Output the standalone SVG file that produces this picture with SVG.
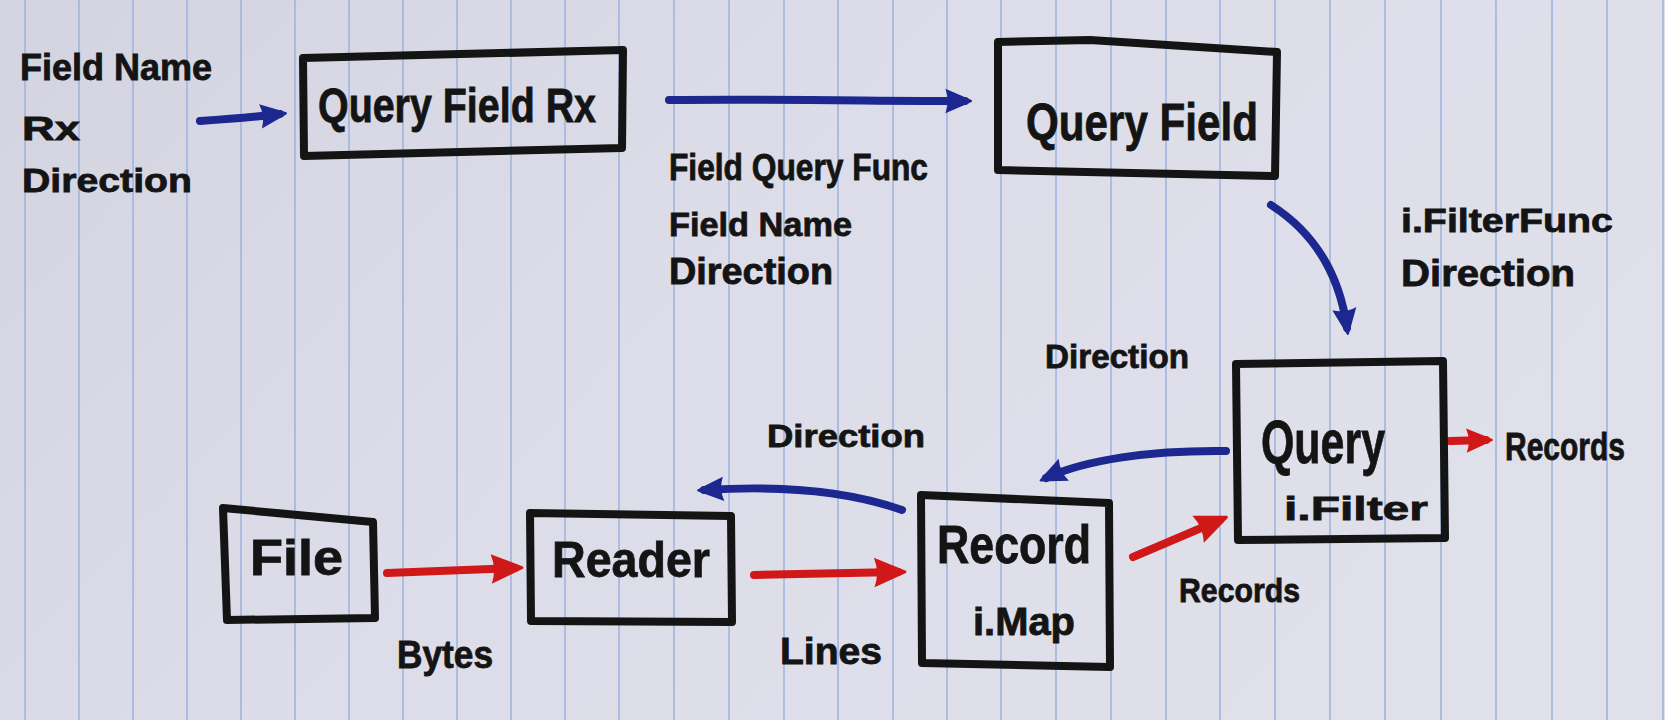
<svg xmlns="http://www.w3.org/2000/svg" width="1665" height="720" viewBox="0 0 1665 720">
<defs>
<linearGradient id="paper" x1="0" y1="0" x2="1" y2="0.4">
<stop offset="0" stop-color="#d3d4e0"/>
<stop offset="0.5" stop-color="#dcdde8"/>
<stop offset="1" stop-color="#dfe0ea"/>
</linearGradient>
<marker id="hb" markerUnits="userSpaceOnUse" viewBox="0 0 30 30" refX="22" refY="15" markerWidth="28" markerHeight="30" orient="auto">
<path d="M1,2 L29,14 Q30,15 29,16 L1,28 Q6,15 1,2 Z" fill="#1c2790"/>
</marker>
<marker id="hr" markerUnits="userSpaceOnUse" viewBox="0 0 30 30" refX="22" refY="15" markerWidth="36" markerHeight="34" orient="auto">
<path d="M1,2 L29,14 Q30,15 29,16 L1,28 Q6,15 1,2 Z" fill="#d01818"/>
</marker>
<marker id="hrs" markerUnits="userSpaceOnUse" viewBox="0 0 30 30" refX="22" refY="15" markerWidth="28" markerHeight="30" orient="auto">
<path d="M1,2 L29,14 Q30,15 29,16 L1,28 Q6,15 1,2 Z" fill="#d01818"/>
</marker>
</defs>
<style>
.rule{stroke:#9fb5de;stroke-width:1.6}
.box{fill:none;stroke:#141414;stroke-width:8;stroke-linejoin:round;stroke-linecap:round}
.t{font-family:"Liberation Sans",Arial,sans-serif;font-weight:bold;fill:#141414;stroke:#141414;stroke-width:0.8}
.blue{fill:none;stroke:#1c2790;stroke-width:8;stroke-linecap:round}
.red{fill:none;stroke:#d01818;stroke-width:8;stroke-linecap:round}
</style>
<rect width="1665" height="720" fill="url(#paper)"/>
<g id="rules">
<line class="rule" x1="25" y1="0" x2="25" y2="720"/>
<line class="rule" x1="79" y1="0" x2="79" y2="720"/>
<line class="rule" x1="133" y1="0" x2="133" y2="720"/>
<line class="rule" x1="187" y1="0" x2="187" y2="720"/>
<line class="rule" x1="241" y1="0" x2="241" y2="720"/>
<line class="rule" x1="295" y1="0" x2="295" y2="720"/>
<line class="rule" x1="349" y1="0" x2="349" y2="720"/>
<line class="rule" x1="403" y1="0" x2="403" y2="720"/>
<line class="rule" x1="457" y1="0" x2="457" y2="720"/>
<line class="rule" x1="511" y1="0" x2="511" y2="720"/>
<line class="rule" x1="565" y1="0" x2="565" y2="720"/>
<line class="rule" x1="619" y1="0" x2="619" y2="720"/>
<line class="rule" x1="674" y1="0" x2="674" y2="720"/>
<line class="rule" x1="729" y1="0" x2="729" y2="720"/>
<line class="rule" x1="784" y1="0" x2="784" y2="720"/>
<line class="rule" x1="838" y1="0" x2="838" y2="720"/>
<line class="rule" x1="893" y1="0" x2="893" y2="720"/>
<line class="rule" x1="947" y1="0" x2="947" y2="720"/>
<line class="rule" x1="1001" y1="0" x2="1001" y2="720"/>
<line class="rule" x1="1056" y1="0" x2="1056" y2="720"/>
<line class="rule" x1="1111" y1="0" x2="1111" y2="720"/>
<line class="rule" x1="1166" y1="0" x2="1166" y2="720"/>
<line class="rule" x1="1220" y1="0" x2="1220" y2="720"/>
<line class="rule" x1="1275" y1="0" x2="1275" y2="720"/>
<line class="rule" x1="1330" y1="0" x2="1330" y2="720"/>
<line class="rule" x1="1385" y1="0" x2="1385" y2="720"/>
<line class="rule" x1="1441" y1="0" x2="1441" y2="720"/>
<line class="rule" x1="1496" y1="0" x2="1496" y2="720"/>
<line class="rule" x1="1552" y1="0" x2="1552" y2="720"/>
<line class="rule" x1="1607" y1="0" x2="1607" y2="720"/>
<line class="rule" x1="1663" y1="0" x2="1663" y2="720"/>
</g>
<g id="connectors">
<path class="blue" d="M200,121 C230,119 255,117 280,114" marker-end="url(#hb)"/>
<path class="blue" d="M669,100 C780,99 880,101 965,101" marker-end="url(#hb)"/>
<path class="blue" d="M1271,205 C1318,235 1340,278 1347,328" marker-end="url(#hb)"/>
<path class="blue" d="M1226,451 C1150,450 1085,460 1046,478" marker-end="url(#hb)"/>
<path class="blue" d="M902,510 C860,495 800,484 704,490" marker-end="url(#hb)"/>
<path class="red" d="M387,573 L515,568" marker-end="url(#hr)"/>
<path class="red" d="M754,575 L898,572" marker-end="url(#hr)"/>
<path class="red" d="M1133,557 L1220,520" marker-end="url(#hr)"/>
<path class="red" d="M1450,441 L1486,440" marker-end="url(#hrs)"/>
<text class="t" x="669" y="180" font-size="36" textLength="259" lengthAdjust="spacingAndGlyphs">Field Query Func</text>
<text class="t" x="669" y="236" font-size="34" textLength="183" lengthAdjust="spacingAndGlyphs">Field Name</text>
<text class="t" x="669" y="284" font-size="36" textLength="164" lengthAdjust="spacingAndGlyphs">Direction</text>
<text class="t" x="1401" y="232" font-size="34" textLength="212" lengthAdjust="spacingAndGlyphs">i.FilterFunc</text>
<text class="t" x="1401" y="286" font-size="36" textLength="174" lengthAdjust="spacingAndGlyphs">Direction</text>
<text class="t" x="1045" y="368" font-size="34" textLength="144" lengthAdjust="spacingAndGlyphs">Direction</text>
<text class="t" x="767" y="447" font-size="32" textLength="158" lengthAdjust="spacingAndGlyphs">Direction</text>
<text class="t" x="1505" y="460" font-size="38" textLength="120" lengthAdjust="spacingAndGlyphs">Records</text>
<text class="t" x="1179" y="602" font-size="34" textLength="121" lengthAdjust="spacingAndGlyphs">Records</text>
<text class="t" x="780" y="664" font-size="36" textLength="102" lengthAdjust="spacingAndGlyphs">Lines</text>
<text class="t" x="397" y="668" font-size="38" textLength="96" lengthAdjust="spacingAndGlyphs">Bytes</text>
</g>
<g id="inputs">
<text class="t" x="20" y="80" font-size="36" textLength="192" lengthAdjust="spacingAndGlyphs">Field Name</text>
<text class="t" x="22" y="140" font-size="34" textLength="58" lengthAdjust="spacingAndGlyphs">Rx</text>
<text class="t" x="22" y="192" font-size="34" textLength="170" lengthAdjust="spacingAndGlyphs">Direction</text>
</g>
<g id="node-queryfieldrx">
<path class="box" d="M303,58 L623,50 L622,148 L304,156 Z"/>
<text class="t" x="318" y="122" font-size="48" textLength="278" lengthAdjust="spacingAndGlyphs">Query Field Rx</text>
</g>
<g id="node-queryfield">
<path class="box" d="M998,42 L1090,40 L1277,52 L1275,176 L998,170 Z"/>
<text class="t" x="1026" y="140" font-size="52" textLength="232" lengthAdjust="spacingAndGlyphs">Query Field</text>
</g>
<g id="node-query">
<path class="box" d="M1236,364 L1443,361 L1445,538 L1238,540 Z"/>
<text class="t" x="1261" y="463" font-size="62" textLength="124" lengthAdjust="spacingAndGlyphs">Query</text>
<text class="t" x="1284" y="520" font-size="34" textLength="144" lengthAdjust="spacingAndGlyphs">i.Filter</text>
</g>
<g id="node-record">
<path class="box" d="M921,495 L1109,503 L1110,667 L922,663 Z"/>
<text class="t" x="937" y="563" font-size="54" textLength="154" lengthAdjust="spacingAndGlyphs">Record</text>
<text class="t" x="973" y="635" font-size="38" textLength="102" lengthAdjust="spacingAndGlyphs">i.Map</text>
</g>
<g id="node-reader">
<path class="box" d="M530,513 L731,516 L732,622 L531,621 Z"/>
<text class="t" x="552" y="577" font-size="50" textLength="158" lengthAdjust="spacingAndGlyphs">Reader</text>
</g>
<g id="node-file">
<path class="box" d="M223,508 L373,522 L375,618 L227,620 Z"/>
<text class="t" x="250" y="575" font-size="50" textLength="93" lengthAdjust="spacingAndGlyphs">File</text>
</g>
</svg>
